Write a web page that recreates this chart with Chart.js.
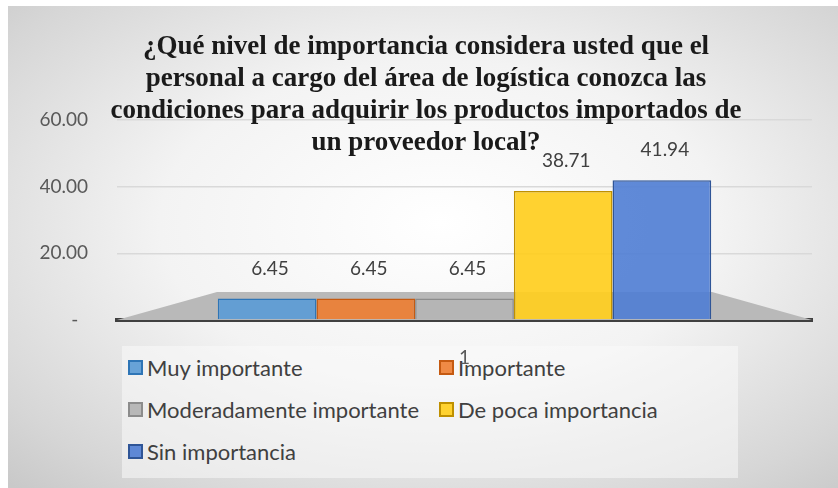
<!DOCTYPE html>
<html>
<head>
<meta charset="utf-8">
<script src="https://cdn.jsdelivr.net/npm/chart.js@4/dist/chart.umd.min.js"></script>
<style>
  html, body { margin: 0; padding: 0; background: #fff; }
  #wrap { position: relative; width: 838px; height: 488px; overflow: hidden; }
  #bg {
    position: absolute; left: 8px; top: 6px; width: 830px; height: 482px;
    background: radial-gradient(ellipse 75% 75% at 52% 45%, #ffffff 0%, #f3f3f3 45%, #d6d6d6 85%, #c9c9c9 100%);
  }
  #chart { position: absolute; left: 0; top: 0; }
  #legend {
    position: absolute; left: 122px; top: 346px; width: 616px; height: 132px;
    background: rgba(250, 250, 250, 0.55);
    font-family: Lato, "Open Sans", sans-serif; font-size: 22px; color: #404040;
  }
  .item { position: absolute; display: flex; align-items: center; white-space: nowrap; }
  .box { width: 11px; height: 11px; border: 2px solid; margin-right: 4px; }
</style>
</head>
<body>
<div id="wrap">
  <div id="bg"></div>
  <div id="legend"></div>
  <canvas id="chart" width="838" height="488"></canvas>
</div>
<script>
const categories = ['1'];
const seriesNames = ['Muy importante', 'Importante', 'Moderadamente importante', 'De poca importancia', 'Sin importancia'];
const seriesValues = [6.45, 6.45, 6.45, 38.71, 41.94];
const fillColors = ['rgba(91,155,213,0.92)', 'rgba(237,125,49,0.9)', 'rgba(180,180,180,0.95)', 'rgba(255,206,30,0.92)', 'rgba(79,125,212,0.9)'];
const lineColors = ['#2e75b6', '#c55a11', '#8c8c8c', '#bf9000', '#2f5597'];
const yTicks = [0, 20, 40, 60];

const titleLines = [
  '¿Qué nivel de importancia considera usted que el',
  'personal a cargo del área de logística conozca las',
  'condiciones para adquirir los productos importados de',
  'un proveedor local?'
];

// gray floor under the bars, like the 3D base of the original
const floorPlugin = {
  id: 'floor',
  beforeDatasetsDraw(chart) {
    const { ctx, chartArea: a } = chart;
    ctx.save();
    ctx.fillStyle = '#b9b9b9';
    ctx.beginPath();
    ctx.moveTo(a.left, a.bottom);
    ctx.lineTo(a.left + 100, a.bottom - 28);
    ctx.lineTo(a.right - 100, a.bottom - 28);
    ctx.lineTo(a.right, a.bottom);
    ctx.closePath();
    ctx.fill();
    ctx.restore();
  }
};

// value labels above each bar
const valueLabels = {
  id: 'valueLabels',
  afterDatasetsDraw(chart) {
    const ctx = chart.ctx;
    ctx.save();
    ctx.font = '19px Lato, "Open Sans", sans-serif';
    ctx.fillStyle = '#404040';
    ctx.textAlign = 'center';
    ctx.textBaseline = 'middle';
    chart.data.datasets.forEach((ds, i) => {
      chart.getDatasetMeta(i).data.forEach((bar, j) => {
        ctx.fillText(ds.data[j].toFixed(2), bar.x + 3, bar.y - 30);
      });
    });
    ctx.restore();
  }
};

new Chart(document.getElementById('chart'), {
  type: 'bar',
  data: {
    labels: categories,
    datasets: seriesNames.map((name, i) => ({
      label: name,
      data: [seriesValues[i]],
      backgroundColor: fillColors[i],
      borderColor: lineColors[i],
      borderWidth: 1.5,
      categoryPercentage: 0.71,
      barPercentage: 1
    }))
  },
  options: {
    responsive: false,
    animation: false,
    layout: { padding: { left: 40, right: 26, top: 0, bottom: 120 } },
    plugins: {
      legend: { display: false },
      tooltip: { enabled: false },
      title: {
        display: true,
        text: titleLines,
        color: '#1a1a1a',
        font: { family: '"Liberation Serif", "Times New Roman", serif', size: 27, weight: 'bold', lineHeight: 32 / 27 },
        padding: { top: 31, bottom: -39 }
      }
    },
    scales: {
      x: {
        afterFit: (axis) => { axis.height = 48; },
        grid: { display: false },
        border: { display: true, color: '#404040', width: 4 },
        ticks: { color: '#595959', padding: 18, font: { family: 'Lato, sans-serif', size: 19 } }
      },
      y: {
        min: 0,
        max: 60,
        afterFit: (axis) => { axis.width = 77; },
        afterBuildTicks: (axis) => { axis.ticks = yTicks.map(v => ({ value: v })); },
        grid: { color: (c) => c.tick && c.tick.value === 0 ? 'rgba(0,0,0,0)' : '#d9d9d9', lineWidth: 1.5, drawTicks: false },
        border: { display: false },
        ticks: {
          color: '#595959',
          padding: 29,
          font: { family: 'Lato, sans-serif', size: 19 },
          callback: (v) => v === 0 ? '-  ' : v.toFixed(2)
        }
      }
    }
  },
  plugins: [floorPlugin, valueLabels]
});

// legend in two columns, as in the original
const legend = document.getElementById('legend');
seriesNames.forEach((name, i) => {
  const el = document.createElement('div');
  el.className = 'item';
  el.style.left = (i % 2 === 0 ? 6 : 317) + 'px';
  el.style.top = (8 + Math.floor(i / 2) * 42) + 'px';
  el.innerHTML = '<span class="box" style="background:' + fillColors[i] + ';border-color:' + lineColors[i] + '"></span>' + name;
  legend.appendChild(el);
});
</script>
</body>
</html>
